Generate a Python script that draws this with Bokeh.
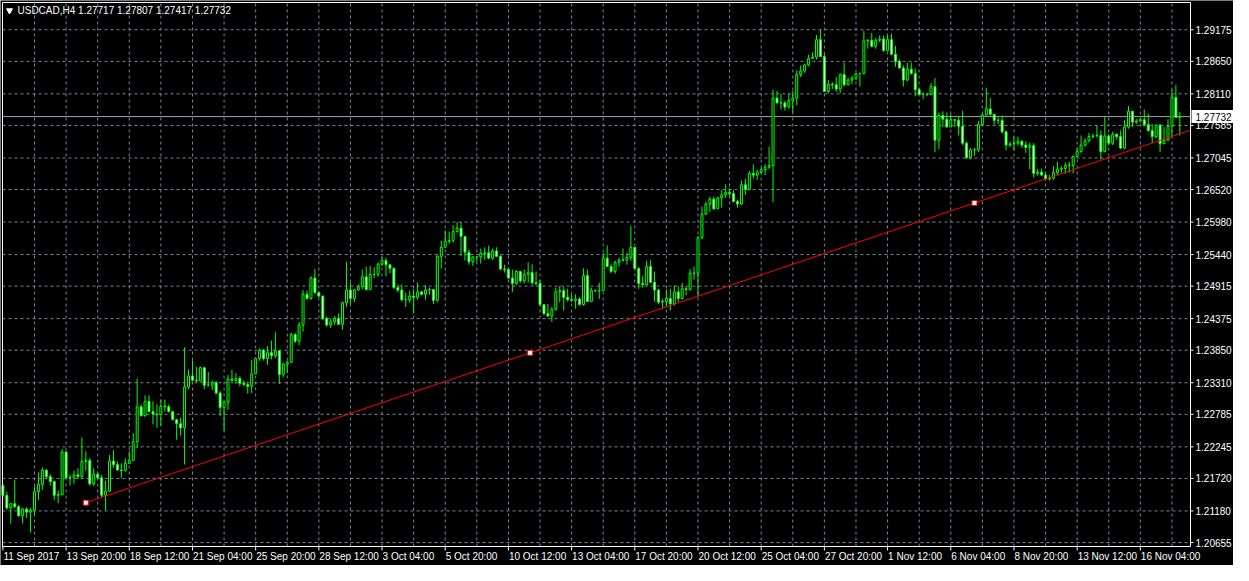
from bokeh.plotting import figure
from bokeh.models import ColumnDataSource, Range1d
from bokeh.core.properties import value
from bokeh.embed import file_html
from bokeh.resources import INLINE

# ---------------- data (USDCAD H4) ----------------
symbol_title = "USDCAD,H4  1.27717 1.27807 1.27417 1.27732"
first_open = 1.2160
close = [
 1.2144,1.2123,1.2130,1.2125,1.2110,1.2121,1.2116,1.2119,1.2150,1.2162,
 1.2186,1.2175,1.2167,1.2144,1.2145,1.2216,1.2173,1.2174,1.2178,1.2175,
 1.2200,1.2202,1.2163,1.2179,1.2173,1.2144,1.2151,1.2201,1.2195,1.2186,
 1.2185,1.2197,1.2202,1.2233,1.2291,1.2276,1.2300,1.2283,1.2279,1.2278,
 1.2292,1.2291,1.2283,1.2270,1.2263,1.2256,1.2324,1.2342,1.2335,1.2334,
 1.2356,1.2327,1.2327,1.2331,1.2314,1.2290,1.2299,1.2337,1.2335,1.2338,
 1.2330,1.2328,1.2325,1.2346,1.2371,1.2385,1.2371,1.2381,1.2376,1.2384,
 1.2345,1.2362,1.2365,1.2411,1.2400,1.2427,1.2478,1.2471,1.2505,1.2481,
 1.2475,1.2438,1.2427,1.2432,1.2438,1.2428,1.2464,1.2485,1.2471,1.2485,
 1.2491,1.2507,1.2486,1.2511,1.2511,1.2528,1.2534,1.2527,1.2521,1.2489,
 1.2485,1.2469,1.2469,1.2475,1.2473,1.2482,1.2478,1.2485,1.2486,1.2468,
 1.2541,1.2556,1.2566,1.2567,1.2582,1.2588,1.2574,1.2548,1.2532,1.2540,
 1.2540,1.2546,1.2547,1.2538,1.2550,1.2541,1.2520,1.2519,1.2505,1.2496,
 1.2516,1.2500,1.2511,1.2514,1.2497,1.2496,1.2461,1.2446,1.2442,1.2453,
 1.2482,1.2484,1.2473,1.2469,1.2468,1.2470,1.2461,1.2509,1.2466,1.2484,
 1.2484,1.2484,1.2538,1.2524,1.2516,1.2531,1.2535,1.2535,1.2539,1.2556,
 1.2521,1.2496,1.2494,1.2524,1.2498,1.2485,1.2465,1.2466,1.2471,1.2462,
 1.2482,1.2471,1.2487,1.2486,1.2513,1.2513,1.2572,1.2611,1.2628,1.2636,
 1.2620,1.2638,1.2643,1.2647,1.2645,1.2632,1.2628,1.2660,1.2652,1.2679,
 1.2676,1.2681,1.2685,1.2689,1.2692,1.2804,1.2796,1.2796,1.2789,1.2800,
 1.2804,1.2843,1.2849,1.2859,1.2870,1.2872,1.2901,1.2873,1.2815,1.2827,
 1.2826,1.2819,1.2843,1.2826,1.2834,1.2837,1.2845,1.2845,1.2899,1.2900,
 1.2890,1.2900,1.2902,1.2883,1.2901,1.2877,1.2865,1.2854,1.2834,1.2852,
 1.2845,1.2818,1.2810,1.2810,1.2810,1.2823,1.2734,1.2775,1.2769,1.2756,
 1.2768,1.2767,1.2757,1.2729,1.2705,1.2718,1.2718,1.2760,1.2776,1.2786,
 1.2777,1.2767,1.2767,1.2748,1.2726,1.2728,1.2729,1.2732,1.2726,1.2722,
 1.2725,1.2679,1.2681,1.2676,1.2670,1.2671,1.2680,1.2686,1.2687,1.2692,
 1.2692,1.2707,1.2715,1.2726,1.2733,1.2740,1.2741,1.2742,1.2715,1.2741,
 1.2729,1.2744,1.2740,1.2721,1.2756,1.2782,1.2764,1.2766,1.2768,1.2760,
 1.2750,1.2740,1.2759,1.2728,1.2734,1.2757,1.2805,1.27717,1.27732,
]
high = [
 1.2163,1.2150,1.2131,1.2170,1.2128,1.2123,1.2124,1.2123,1.2158,1.2182,
 1.2190,1.2187,1.2179,1.2168,1.2152,1.2221,1.2217,1.2178,1.2185,1.2189,
 1.2240,1.2217,1.2206,1.2189,1.2182,1.2178,1.2168,1.2211,1.2219,1.2200,
 1.2197,1.2205,1.2217,1.2247,1.2338,1.2295,1.2310,1.2310,1.2300,1.2295,
 1.2303,1.2303,1.2295,1.2283,1.2271,1.2273,1.2390,1.2353,1.2368,1.2357,
 1.2358,1.2357,1.2349,1.2335,1.2334,1.2317,1.2300,1.2344,1.2352,1.2347,
 1.2342,1.2335,1.2333,1.2369,1.2373,1.2388,1.2387,1.2392,1.2401,1.2415,
 1.2385,1.2364,1.2368,1.2414,1.2414,1.2432,1.2485,1.2484,1.2508,1.2520,
 1.2482,1.2476,1.2441,1.2438,1.2442,1.2446,1.2466,1.2532,1.2497,1.2487,
 1.2494,1.2519,1.2524,1.2525,1.2523,1.2531,1.2540,1.2539,1.2528,1.2523,
 1.2494,1.2494,1.2481,1.2484,1.2487,1.2498,1.2484,1.2493,1.2489,1.2481,
 1.2543,1.2567,1.2584,1.2582,1.2593,1.2598,1.2598,1.2575,1.2552,1.2541,
 1.2541,1.2554,1.2556,1.2559,1.2554,1.2556,1.2543,1.2527,1.2521,1.2519,
 1.2518,1.2516,1.2519,1.2531,1.2528,1.2516,1.2502,1.2460,1.2462,1.2457,
 1.2489,1.2492,1.2491,1.2487,1.2478,1.2478,1.2473,1.2521,1.2519,1.2489,
 1.2486,1.2497,1.2546,1.2559,1.2528,1.2534,1.2538,1.2554,1.2547,1.2591,
 1.2556,1.2523,1.2508,1.2534,1.2535,1.2516,1.2487,1.2470,1.2486,1.2487,
 1.2493,1.2491,1.2497,1.2492,1.2520,1.2524,1.2575,1.2624,1.2632,1.2640,
 1.2640,1.2640,1.2651,1.2661,1.2654,1.2651,1.2635,1.2667,1.2670,1.2683,
 1.2694,1.2685,1.2688,1.2694,1.2723,1.2818,1.2816,1.2811,1.2799,1.2812,
 1.2816,1.2850,1.2858,1.2861,1.2876,1.2880,1.2909,1.2918,1.2877,1.2834,
 1.2831,1.2839,1.2845,1.2863,1.2838,1.2841,1.2845,1.2846,1.2916,1.2902,
 1.2912,1.2904,1.2908,1.2908,1.2908,1.2911,1.2891,1.2868,1.2858,1.2863,
 1.2863,1.2853,1.2821,1.2814,1.2812,1.2829,1.2837,1.2780,1.2782,1.2780,
 1.2777,1.2769,1.2773,1.2783,1.2732,1.2721,1.2721,1.2766,1.2778,1.2821,
 1.2804,1.2778,1.2772,1.2775,1.2750,1.2732,1.2740,1.2740,1.2734,1.2732,
 1.2730,1.2729,1.2686,1.2687,1.2680,1.2676,1.2691,1.2698,1.2691,1.2697,
 1.2698,1.2708,1.2721,1.2742,1.2737,1.2746,1.2745,1.2758,1.2750,1.2773,
 1.2744,1.2748,1.2745,1.2750,1.2767,1.2791,1.2783,1.2769,1.2771,1.2785,
 1.2778,1.2761,1.2760,1.2761,1.2756,1.2769,1.2818,1.2826,1.27807,
]
low = [
 1.2141,1.2120,1.2097,1.2123,1.2108,1.2097,1.2106,1.2082,1.2111,1.2136,
 1.2153,1.2171,1.2160,1.2136,1.2131,1.2144,1.2171,1.2160,1.2163,1.2171,
 1.2173,1.2185,1.2160,1.2160,1.2171,1.2141,1.2119,1.2150,1.2190,1.2185,
 1.2173,1.2183,1.2197,1.2201,1.2222,1.2275,1.2275,1.2282,1.2262,1.2256,
 1.2260,1.2283,1.2282,1.2268,1.2236,1.2243,1.2195,1.2320,1.2334,1.2332,
 1.2333,1.2320,1.2325,1.2319,1.2311,1.2276,1.2251,1.2286,1.2333,1.2329,
 1.2325,1.2325,1.2313,1.2314,1.2345,1.2367,1.2368,1.2361,1.2370,1.2372,
 1.2329,1.2340,1.2347,1.2365,1.2397,1.2393,1.2416,1.2469,1.2469,1.2478,
 1.2473,1.2435,1.2424,1.2422,1.2427,1.2427,1.2419,1.2457,1.2462,1.2465,
 1.2484,1.2486,1.2484,1.2485,1.2505,1.2507,1.2525,1.2508,1.2513,1.2487,
 1.2481,1.2466,1.2457,1.2464,1.2446,1.2469,1.2476,1.2469,1.2477,1.2462,
 1.2465,1.2521,1.2556,1.2562,1.2564,1.2581,1.2541,1.2534,1.2527,1.2525,
 1.2532,1.2529,1.2535,1.2536,1.2535,1.2540,1.2518,1.2514,1.2504,1.2482,
 1.2493,1.2497,1.2496,1.2497,1.2494,1.2492,1.2458,1.2443,1.2440,1.2432,
 1.2451,1.2465,1.2451,1.2466,1.2465,1.2454,1.2459,1.2459,1.2465,1.2469,
 1.2482,1.2470,1.2492,1.2523,1.2513,1.2512,1.2524,1.2532,1.2527,1.2534,
 1.2520,1.2487,1.2489,1.2492,1.2496,1.2466,1.2462,1.2454,1.2457,1.2451,
 1.2459,1.2465,1.2469,1.2476,1.2484,1.2502,1.2474,1.2570,1.2610,1.2615,
 1.2618,1.2620,1.2622,1.2638,1.2642,1.2631,1.2622,1.2626,1.2643,1.2651,
 1.2670,1.2668,1.2678,1.2676,1.2686,1.2631,1.2795,1.2785,1.2783,1.2787,
 1.2780,1.2792,1.2839,1.2846,1.2857,1.2869,1.2868,1.2872,1.2814,1.2812,
 1.2819,1.2814,1.2812,1.2823,1.2826,1.2827,1.2834,1.2823,1.2843,1.2886,
 1.2888,1.2886,1.2897,1.2881,1.2883,1.2875,1.2856,1.2853,1.2823,1.2832,
 1.2843,1.2807,1.2809,1.2802,1.2807,1.2809,1.2714,1.2719,1.2756,1.2755,
 1.2766,1.2756,1.2742,1.2726,1.2703,1.2702,1.2708,1.2714,1.2758,1.2775,
 1.2775,1.2760,1.2761,1.2745,1.2717,1.2723,1.2717,1.2725,1.2721,1.2713,
 1.2686,1.2672,1.2675,1.2674,1.2667,1.2667,1.2668,1.2676,1.2680,1.2678,
 1.2680,1.2679,1.2705,1.2713,1.2723,1.2730,1.2737,1.2739,1.2702,1.2714,
 1.2725,1.2726,1.2735,1.2719,1.2719,1.2753,1.2756,1.2761,1.2764,1.2757,
 1.2748,1.2729,1.2737,1.2714,1.2728,1.2733,1.2739,1.2771,1.27417,
]
last_price = 1.27732
price_ticks = [1.20655, 1.21180, 1.21720, 1.22245, 1.22785, 1.23310, 1.23850,
               1.24375, 1.24915, 1.25440, 1.25980, 1.26520, 1.27045, 1.27585,
               1.28110, 1.28650, 1.29175]
time_tick_bars = [0, 16, 32, 48, 64, 80, 96, 112, 128, 144, 160, 176, 192,
                  208, 224, 240, 256, 272, 288]
time_tick_labels = ["11 Sep 2017", "13 Sep 20:00", "18 Sep 12:00", "21 Sep 04:00",
                    "25 Sep 20:00", "28 Sep 12:00", "3 Oct 04:00", "5 Oct 20:00",
                    "10 Oct 12:00", "13 Oct 04:00", "17 Oct 20:00", "20 Oct 12:00",
                    "25 Oct 04:00", "27 Oct 20:00", "1 Nov 12:00", "6 Nov 04:00",
                    "8 Nov 20:00", "13 Nov 12:00", "16 Nov 04:00"]
trend_bars = [21, 246]
trend_prices = [1.21318, 1.26297]

# ---------------- layout (pixels of the figure) ----------------
W, H = 1233, 565
CL, CR, CT, CB = 2, 1190, 2, 546          # chart area inside the figure
BX0, BX1 = -0.1, 300.7                    # bars visible in the chart area
PY0, PY1 = 1.20589, 1.29628               # prices visible in the chart area
ppx = (CR - CL) / (BX1 - BX0)
ppy = (CB - CT) / (PY1 - PY0)
def dx(px): return px / ppx
def dy(px): return px / ppy

FONT = value("Liberation Sans")
GREEN = "#00ff00"
GRID = "#778899"

p = figure(width=W, height=H,
           x_range=Range1d(BX0 - dx(CL), BX1 + dx(W - CR)),
           y_range=Range1d(PY0 - dy(H - CB), PY1 + dy(CT)),
           x_axis_location=None, y_axis_location=None,
           output_backend="svg", toolbar_location=None,
           background_fill_color="black", border_fill_color="black",
           min_border=0)
p.outline_line_color = None
p.xgrid.visible = False
p.ygrid.visible = False

# dashed grid inside the chart area
vgrid = list(range(8, 300, 8))
p.segment(x0=vgrid, y0=[PY0] * len(vgrid), x1=vgrid, y1=[PY1] * len(vgrid),
          line_color=GRID, line_dash="3 3", line_width=1)
p.segment(x0=[BX0] * len(price_ticks), y0=price_ticks, x1=[BX1] * len(price_ticks),
          y1=price_ticks, line_color=GRID, line_dash="3 3", line_width=1)

# bid line
p.segment(x0=[BX0], y0=[last_price], x1=[BX1], y1=[last_price],
          line_color="#a0a4aa", line_width=1)

# candles
n = len(close)
bars = list(range(n))
opens = [first_open] + close[:-1]
bull = dict(x=[], top=[], bottom=[])
bear = dict(x=[], top=[], bottom=[])
for i in bars:
    o, c = opens[i], close[i]
    d = bull if c >= o else bear
    d["x"].append(i)
    d["top"].append(max(o, c))
    d["bottom"].append(min(o, c))

p.segment(x0=bars, y0=low, x1=bars, y1=high, line_color=GREEN, line_width=1)
p.vbar(x="x", top="top", bottom="bottom", width=0.5, source=ColumnDataSource(bull),
       fill_color="black", line_color=GREEN, line_width=1)
p.vbar(x="x", top="top", bottom="bottom", width=0.5, source=ColumnDataSource(bear),
       fill_color="white", line_color=GREEN, line_width=1)

# trend line (ray to the right edge of the chart)
slope = (trend_prices[1] - trend_prices[0]) / (trend_bars[1] - trend_bars[0])
p.line([trend_bars[0], BX1],
       [trend_prices[0], trend_prices[0] + slope * (BX1 - trend_bars[0])],
       line_color="#ff0000", line_width=1)
mid_x = (trend_bars[0] + trend_bars[1]) / 2
mid_y = (trend_prices[0] + trend_prices[1]) / 2
p.scatter([trend_bars[0], mid_x, trend_bars[1]], [trend_prices[0], mid_y, trend_prices[1]],
          marker="square", size=5, fill_color="white", line_color="#ff0000", line_width=1)

# chart frame
p.quad(left=[BX0], right=[BX1], top=[PY1], bottom=[PY0], fill_color=None,
       line_color="white", line_width=1)

# price scale (right)
p.segment(x0=[BX1] * len(price_ticks), y0=price_ticks,
          x1=[BX1 + dx(3)] * len(price_ticks), y1=price_ticks,
          line_color="white", line_width=1)
p.text(x=[BX1 + dx(5)] * len(price_ticks), y=price_ticks,
       text=["%.5f" % t for t in price_ticks],
       text_font=FONT, text_font_size=value("10px"), text_color="white",
       text_baseline="middle", text_align="left")

# time scale (bottom)
p.segment(x0=time_tick_bars, y0=[PY0] * len(time_tick_bars),
          x1=time_tick_bars, y1=[PY0 - dy(4)] * len(time_tick_bars),
          line_color="white", line_width=1)
p.text(x=[b + dx(0.5) for b in time_tick_bars], y=[PY0 - dy(4)] * len(time_tick_bars),
       text=time_tick_labels,
       text_font=FONT, text_font_size=value("10px"), text_color="white",
       text_baseline="top", text_align="left")

# last price box
p.quad(left=[BX1 + dx(1)], right=[BX1 + dx(W - CR)], top=[last_price + dy(6.5)],
       bottom=[last_price - dy(6.5)], fill_color="white", line_color=None)
p.text(x=[BX1 + dx(5)], y=[last_price], text=["%.5f" % last_price],
       text_font=FONT, text_font_size=value("10px"), text_color="black",
       text_baseline="middle", text_align="left")

# symbol header
p.scatter([BX0 + dx(7)], [PY1 - dy(8)], marker="inverted_triangle", size=6,
          fill_color="white", line_color="white")
p.text(x=[BX0 + dx(15)], y=[PY1 - dy(2)], text=[symbol_title],
       text_font=FONT, text_font_size=value("10px"), text_color="white",
       text_baseline="top", text_align="left")

open("out.html", "w").write(file_html(p, INLINE))
